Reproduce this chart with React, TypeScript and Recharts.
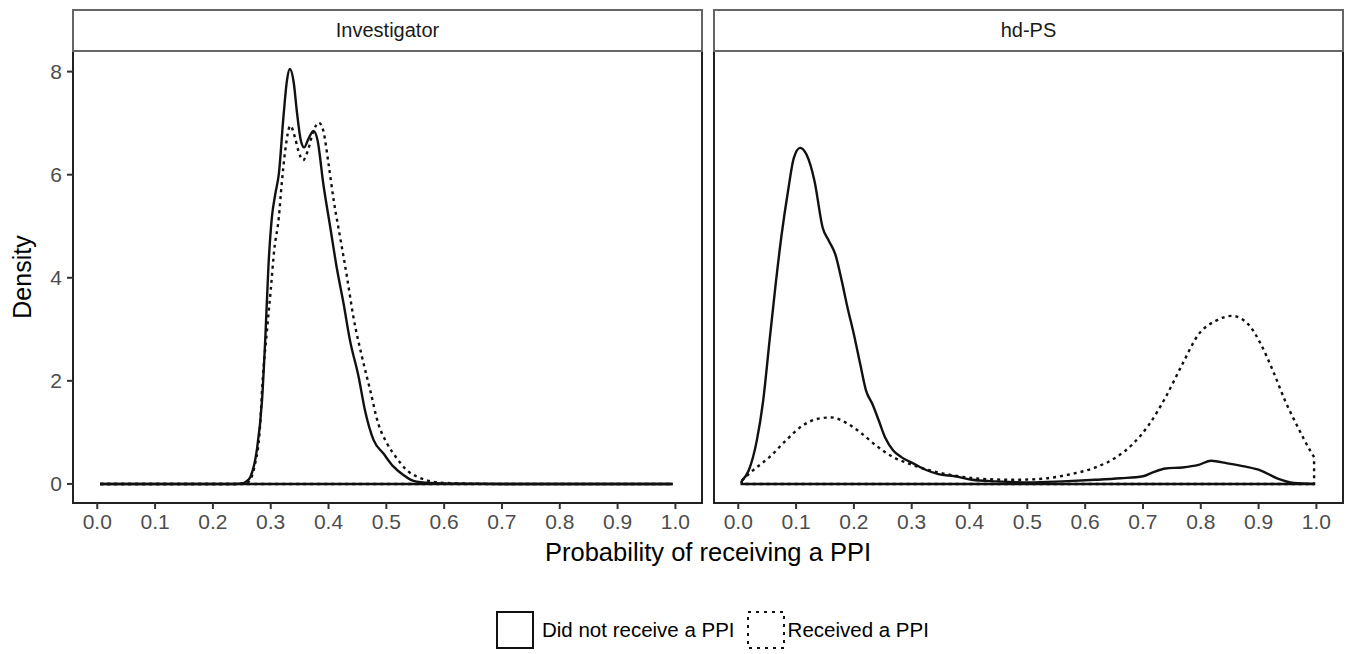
import { LineChart, Line, XAxis, YAxis } from 'recharts'

const panels = ['Investigator', 'hd-PS']
const groups = ['Did not receive a PPI', 'Received a PPI']
const xTicks = [0, 0.1, 0.2, 0.3, 0.4, 0.5, 0.6, 0.7, 0.8, 0.9, 1.0]
const yTicks = [0, 2, 4, 6, 8]

// Investigator — did not receive a PPI
const invNoX = [0.005, 0.1, 0.2, 0.24, 0.25, 0.258, 0.265, 0.276, 0.285, 0.291, 0.296, 0.302, 0.308, 0.314, 0.322, 0.328, 0.333, 0.34, 0.345, 0.352, 0.358, 0.365, 0.374, 0.381, 0.391, 0.403, 0.414, 0.426, 0.437, 0.452, 0.463, 0.478, 0.495, 0.512, 0.53, 0.547, 0.576, 0.62, 0.7, 0.8, 0.9, 0.995]
const invNoY = [0, 0, 0, 0, 0.01, 0.05, 0.14, 0.66, 1.63, 2.92, 4.21, 5.17, 5.63, 6.01, 7.12, 7.82, 8.05, 7.77, 7.25, 6.67, 6.53, 6.69, 6.85, 6.67, 5.82, 4.98, 4.21, 3.5, 2.79, 2.08, 1.43, 0.85, 0.59, 0.34, 0.17, 0.06, 0.02, 0.005, 0, 0, 0, 0]

// Investigator — received a PPI
const invYesX = [0.005, 0.1, 0.2, 0.245, 0.255, 0.263, 0.273, 0.281, 0.286, 0.293, 0.3, 0.306, 0.314, 0.319, 0.325, 0.334, 0.342, 0.348, 0.356, 0.364, 0.374, 0.383, 0.391, 0.4, 0.409, 0.42, 0.432, 0.443, 0.458, 0.472, 0.486, 0.501, 0.518, 0.535, 0.553, 0.57, 0.6, 0.65, 0.7, 0.8, 0.9, 0.995]
const invYesY = [0, 0, 0, 0, 0.01, 0.06, 0.39, 1.03, 2.0, 2.92, 3.76, 4.53, 5.17, 5.82, 6.46, 6.95, 6.72, 6.46, 6.28, 6.46, 6.85, 7.01, 6.85, 6.21, 5.5, 4.79, 4.01, 3.24, 2.46, 1.82, 1.17, 0.79, 0.5, 0.27, 0.14, 0.07, 0.02, 0.005, 0, 0, 0, 0]

// hd-PS — did not receive a PPI
const hdNoX = [0.006, 0.018, 0.032, 0.043, 0.054, 0.064, 0.075, 0.086, 0.096, 0.107, 0.118, 0.132, 0.146, 0.157, 0.168, 0.179, 0.189, 0.2, 0.211, 0.221, 0.232, 0.243, 0.254, 0.268, 0.282, 0.304, 0.325, 0.346, 0.375, 0.404, 0.446, 0.504, 0.561, 0.618, 0.661, 0.7, 0.718, 0.739, 0.768, 0.796, 0.818, 0.846, 0.875, 0.904, 0.932, 0.961, 0.996]
const hdNoY = [0.06, 0.26, 0.84, 1.61, 2.77, 3.81, 4.84, 5.68, 6.32, 6.52, 6.39, 5.87, 4.97, 4.71, 4.45, 3.94, 3.42, 2.9, 2.32, 1.81, 1.55, 1.23, 0.9, 0.65, 0.52, 0.39, 0.27, 0.19, 0.15, 0.08, 0.05, 0.03, 0.05, 0.08, 0.11, 0.15, 0.23, 0.3, 0.32, 0.37, 0.45, 0.4, 0.34, 0.26, 0.11, 0.02, 0]

// hd-PS — received a PPI
const hdYesX = [0.006, 0.025, 0.054, 0.082, 0.111, 0.136, 0.161, 0.186, 0.211, 0.239, 0.268, 0.296, 0.332, 0.375, 0.418, 0.475, 0.525, 0.575, 0.618, 0.654, 0.682, 0.711, 0.739, 0.768, 0.796, 0.825, 0.854, 0.882, 0.904, 0.925, 0.946, 0.968, 0.989, 0.996]
const hdYesY = [0.06, 0.26, 0.52, 0.84, 1.13, 1.26, 1.29, 1.19, 1.0, 0.74, 0.52, 0.39, 0.26, 0.16, 0.1, 0.08, 0.1, 0.19, 0.32, 0.52, 0.77, 1.16, 1.68, 2.32, 2.9, 3.16, 3.26, 3.1, 2.71, 2.19, 1.61, 1.1, 0.65, 0.52]

const panelX = [[invNoX, invYesX], [hdNoX, hdYesX]]
const panelY = [[invNoY, invYesY], [hdNoY, hdYesY]]
const dashes = [undefined, '3 4']

const FONT = '"Liberation Sans", Arial, Helvetica, sans-serif'
const X_DOMAIN = [-0.042, 1.046]
const Y_DOMAIN = [-0.37, 8.4]

function curve(xs: number[], ys: number[]) {
  return xs.map((x, i) => ({ x, y: ys[i] }))
}

// closes the density outline along the baseline
function outline(xs: number[], ys: number[]) {
  const n = xs.length - 1
  return [
    { x: xs[0], y: ys[0] },
    { x: xs[0], y: 0 },
    { x: xs[n], y: 0 },
    { x: xs[n], y: ys[n] },
  ]
}

function Panel({ index, left }: { index: number; left: number }) {
  const showY = index === 0
  const yw = showY ? 73 : 0
  return (
    <>
      <div
        style={{
          position: 'absolute',
          left: left - 1,
          top: 50,
          width: 631,
          height: 454,
          border: '2px solid #222',
          boxSizing: 'border-box',
        }}
      />
      <div style={{ position: 'absolute', left: left - yw, top: 51 }}>
        <LineChart width={629 + yw} height={502} margin={{ top: 0, right: 0, bottom: 0, left: 0 }}>
          <XAxis
            type="number"
            dataKey="x"
            domain={X_DOMAIN}
            ticks={xTicks}
            allowDataOverflow
            height={50}
            axisLine={false}
            tickSize={6}
            tickMargin={5}
            tickLine={{ stroke: '#333', strokeWidth: 2 }}
            tick={{ fill: '#4d4d4d', fontSize: 21, fontFamily: FONT }}
            tickFormatter={(v: number) => v.toFixed(1)}
          />
          <YAxis
            type="number"
            dataKey="y"
            domain={Y_DOMAIN}
            ticks={yTicks}
            allowDataOverflow
            hide={!showY}
            width={73}
            axisLine={false}
            tickSize={6}
            tickMargin={5}
            tickLine={{ stroke: '#333', strokeWidth: 2 }}
            tick={{ fill: '#4d4d4d', fontSize: 21, fontFamily: FONT }}
          />
          {groups.map((g, k) => (
            <Line
              key={g + '-base'}
              data={outline(panelX[index][k], panelY[index][k])}
              dataKey="y"
              type="linear"
              stroke="#111"
              strokeWidth={2.4}
              strokeDasharray={dashes[k]}
              dot={false}
              activeDot={false}
              isAnimationActive={false}
            />
          ))}
          {groups.map((g, k) => (
            <Line
              key={g}
              name={g}
              data={curve(panelX[index][k], panelY[index][k])}
              dataKey="y"
              type="monotone"
              stroke="#111"
              strokeWidth={2.4}
              strokeDasharray={dashes[k]}
              dot={false}
              activeDot={false}
              isAnimationActive={false}
            />
          ))}
        </LineChart>
      </div>
      <div
        style={{
          position: 'absolute',
          left: left - 1,
          top: 9,
          width: 631,
          height: 43,
          border: '2px solid #666',
          boxSizing: 'border-box',
          background: '#fff',
          display: 'flex',
          alignItems: 'center',
          justifyContent: 'center',
          fontSize: 20,
          color: '#1a1a1a',
        }}
      >
        {panels[index]}
      </div>
    </>
  )
}

function LegendKey({ dash }: { dash?: string }) {
  return (
    <svg width={38} height={38} style={{ display: 'block' }}>
      <rect x={1} y={1} width={36} height={36} fill="#fff" stroke="#111" strokeWidth={2} strokeDasharray={dash} />
    </svg>
  )
}

export default function App() {
  return (
    <div
      style={{
        position: 'absolute',
        left: 0,
        top: 0,
        width: 1346,
        height: 654,
        background: '#fff',
        fontFamily: FONT,
        overflow: 'hidden',
      }}
    >
      <Panel index={0} left={73} />
      <Panel index={1} left={714} />
      <div
        style={{
          position: 'absolute',
          left: 22,
          top: 277,
          transform: 'translate(-50%, -50%) rotate(-90deg)',
          fontSize: 25,
          color: '#000',
          whiteSpace: 'nowrap',
        }}
      >
        Density
      </div>
      <div
        style={{
          position: 'absolute',
          left: 708,
          top: 552,
          transform: 'translate(-50%, -50%)',
          fontSize: 25.5,
          color: '#000',
          whiteSpace: 'nowrap',
        }}
      >
        Probability of receiving a PPI
      </div>
      <div
        style={{
          position: 'absolute',
          left: 496,
          top: 611,
          display: 'flex',
          alignItems: 'center',
          fontSize: 20.5,
          color: '#000',
          whiteSpace: 'nowrap',
        }}
      >
        {groups.map((g, k) => (
          <div key={g} style={{ display: 'flex', alignItems: 'center', marginLeft: k === 0 ? 0 : 12 }}>
            <LegendKey dash={k === 0 ? undefined : '3 5'} />
            <span style={{ marginLeft: k === 0 ? 8 : 3 }}>{g}</span>
          </div>
        ))}
      </div>
    </div>
  )
}
